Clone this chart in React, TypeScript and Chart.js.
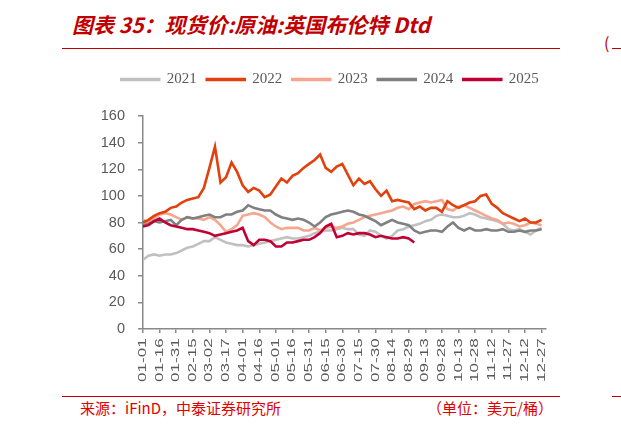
import { useEffect, useRef } from 'react';
import { Chart, registerables } from 'chart.js';

Chart.register(...registerables);

// samples are taken every 5 days, starting 01-01
const STEP_DAYS = 5;
const TICK_DAYS = 15;

const xTickLabels = [
  '01-01', '01-16', '01-31', '02-15', '03-02', '03-17', '04-01', '04-16', '05-01',
  '05-16', '05-31', '06-15', '06-30', '07-15', '07-30', '08-14', '08-29', '09-13',
  '09-28', '10-13', '10-28', '11-12', '11-27', '12-12', '12-27',
];

const yearNames = ['2021', '2022', '2023', '2024', '2025'];

const brent2021 = [
  52, 55, 56, 55, 56, 56, 57, 59, 61, 62,
  64, 66, 66, 69, 67, 65, 64, 63, 63, 62,
  63, 64, 65, 66, 67, 68, 69, 68, 68, 69,
  70, 72, 73, 74, 74, 75, 76, 75, 75, 71,
  70, 74, 73, 70, 68, 70, 74, 75, 77, 78,
  79, 81, 82, 85, 86, 85, 84, 84, 85, 87,
  86, 84, 83, 82, 81, 79, 75, 74, 75, 73,
  71, 74, 76,
];

const brent2022 = [
  80, 82, 85, 87, 88, 91, 92, 95, 97, 98,
  99, 106, 121, 137, 110, 114, 125, 118, 108, 103,
  106, 104, 99, 101, 107, 113, 110, 115, 117, 121,
  124, 127, 131, 121, 118, 122, 124, 116, 108, 113,
  109, 111, 105, 100, 104, 96, 97, 96, 95, 90,
  92, 89, 91, 91, 88, 96, 93, 91, 93, 95,
  96, 100, 101, 94, 91, 87, 85, 83, 81, 83,
  80, 80, 82,
];

const brent2023 = [
  82, 80, 83, 86, 87, 86, 84, 82, 84, 83,
  83, 82, 84, 82, 78, 73, 75, 78, 85, 86,
  87, 86, 84, 80, 77, 75, 76, 76, 76, 74,
  74, 76, 74, 76, 77, 76, 77, 79, 80, 82,
  84, 85, 86, 87, 88, 89, 91, 92, 90, 94,
  95, 96, 95, 96, 97, 90, 89, 92, 93, 91,
  89, 87, 85, 83, 82, 79, 80, 79, 77, 78,
  80, 79, 78,
];

const brent2024 = [
  78, 79, 81, 80, 81, 82, 78, 82, 84, 83,
  84, 85, 86, 84, 84, 86, 86, 88, 89, 93,
  91, 90, 89, 89, 86, 84, 83, 82, 83, 82,
  80, 77, 80, 84, 86, 87, 88, 89, 88, 86,
  85, 83, 81, 78, 80, 82, 80, 79, 78, 74,
  72, 73, 74, 74, 73, 77, 80, 76, 74, 76,
  74, 74, 75, 74, 74, 75, 73, 73, 74, 73,
  74, 74, 75,
];

const brent2025 = [
  77, 78, 81, 83, 80, 78, 77, 76, 75, 75,
  74, 73, 72, 70, 71, 72, 73, 74, 76, 66,
  63, 67, 67, 66, 62, 62, 65, 65, 66, 67,
  67, 69, 72, 77, 79, 69, 70, 72, 71, 72,
  72, 71, 69, 70, 69, 68, 68, 69, 68, 65,
];

const toPoints = (values: number[]) => values.map((v, i) => ({ x: i * STEP_DAYS, y: v }));

// legend keeps a fixed block height so the plot starts where it should,
// and its row is nudged right to sit where the source has it
const legendSpacer = {
  id: 'legendSpacer',
  beforeInit(chart: any) {
    const fit = chart.legend.fit;
    chart.legend.fit = function () {
      fit.call(this);
      this.height = 54;
    };
  },
  afterLayout(chart: any) {
    chart.legend.left += 7;
    chart.legend.right += 7;
  },
};

// the date labels in the source are drawn stretched along their length
const stretchXLabels = {
  id: 'stretchXLabels',
  beforeDraw(chart: any) {
    const scale = chart.scales.x;
    if (!scale || scale._stretched) return;
    const draw = scale.drawLabels.bind(scale);
    scale.drawLabels = (area: any) => {
      const ctx = chart.ctx;
      ctx.save();
      ctx.translate(0, scale.top);
      ctx.scale(1, 1.55);
      ctx.translate(0, -scale.top);
      draw(area);
      ctx.restore();
    };
    scale._stretched = true;
  },
};

export default function App() {
  const chartRef = useRef<HTMLCanvasElement>(null);
  const chartInstanceRef = useRef<Chart | null>(null);

  useEffect(() => {
    if (!chartRef.current) return;
    if (chartInstanceRef.current) chartInstanceRef.current.destroy();
    const ctx = chartRef.current.getContext('2d');
    if (!ctx) return;

    const series = [brent2021, brent2022, brent2023, brent2024, brent2025];
    const colors = ['#c0c0c0', '#e2400c', '#f6a58f', '#808080', '#c00035'];
    const drawOrder = [4, 1, 3, 2, 0];

    chartInstanceRef.current = new Chart(ctx, {
      type: 'line',
      data: {
        datasets: series.map((values, i) => ({
          label: yearNames[i],
          data: toPoints(values),
          borderColor: colors[i],
          backgroundColor: colors[i],
          borderWidth: 2.6,
          pointRadius: 0,
          tension: 0,
          order: drawOrder[i],
        })),
      },
      options: {
        animation: false,
        responsive: true,
        maintainAspectRatio: false,
        layout: { padding: { left: 100, right: 75, top: 4, bottom: 0 } },
        plugins: {
          tooltip: { enabled: false },
          legend: {
            position: 'top',
            labels: {
              boxWidth: 38,
              boxHeight: 1,
              padding: 10,
              color: '#595959',
              font: { family: '"Liberation Serif", serif', size: 15 },
              sort: (a: any, b: any) => a.datasetIndex - b.datasetIndex,
            },
          },
        },
        scales: {
          x: {
            type: 'linear',
            min: 0,
            max: 364,
            afterFit: (scale: any) => {
              scale.height = 61;
            },
            border: { color: '#898989', width: 1.5 },
            grid: {
              drawOnChartArea: false,
              drawTicks: true,
              tickLength: 4,
              color: '#898989',
              lineWidth: 1.5,
            },
            ticks: {
              stepSize: TICK_DAYS,
              includeBounds: false,
              autoSkip: false,
              minRotation: 90,
              maxRotation: 90,
              padding: 2,
              color: '#595959',
              font: { family: '"Liberation Sans", Arial, sans-serif', size: 11 },
              callback: (value: any) => xTickLabels[Math.round(Number(value) / TICK_DAYS)] ?? '',
            },
          },
          y: {
            min: 0,
            max: 160,
            afterFit: (scale: any) => {
              scale.width = 43;
            },
            border: { color: '#898989', width: 1.5 },
            grid: {
              drawOnChartArea: false,
              drawTicks: true,
              tickLength: 5,
              color: '#898989',
              lineWidth: 1.5,
            },
            ticks: {
              stepSize: 20,
              padding: 13,
              color: '#595959',
              font: { family: '"Liberation Sans", Arial, sans-serif', size: 14.5 },
            },
          },
        },
      },
      plugins: [legendSpacer, stretchXLabels],
    } as any);

    return () => {
      if (chartInstanceRef.current) {
        chartInstanceRef.current.destroy();
        chartInstanceRef.current = null;
      }
    };
  }, []);

  const red = '#c00000';

  return (
    <div style={{ position: 'absolute', left: 0, top: 0, width: 621, height: 427, background: '#fff', overflow: 'hidden' }}>
      <div
        style={{
          position: 'absolute',
          left: 72,
          top: 10,
          fontFamily: '"Noto Sans CJK SC", sans-serif',
          fontStyle: 'italic',
          fontWeight: 'bold',
          fontSize: 21,
          lineHeight: '28px',
          color: red,
          whiteSpace: 'nowrap',
        }}
      >
        图表 35：现货价:原油:英国布伦特 Dtd
      </div>
      <div style={{ position: 'absolute', left: 62, top: 48, width: 498, height: 1, background: red }} />
      <div style={{ position: 'absolute', left: 612, top: 48, width: 9, height: 1, background: red }} />
      <div
        style={{
          position: 'absolute',
          left: 604,
          top: 30,
          fontFamily: '"Noto Sans CJK SC", sans-serif',
          fontSize: 16,
          color: red,
        }}
      >
        (
      </div>

      <div style={{ position: 'absolute', left: 0, top: 58, width: 621, height: 332 }}>
        <canvas ref={chartRef} />
      </div>

      <div style={{ position: 'absolute', left: 62, top: 396, width: 498, height: 1, background: red }} />
      <div style={{ position: 'absolute', left: 612, top: 396, width: 9, height: 1, background: red }} />
      <div
        style={{
          position: 'absolute',
          left: 80,
          top: 399,
          fontFamily: '"Noto Sans CJK SC", sans-serif',
          fontSize: 15,
          lineHeight: '18px',
          color: '#e00000',
          whiteSpace: 'nowrap',
        }}
      >
        来源：iFinD，中泰证券研究所
      </div>
      <div
        style={{
          position: 'absolute',
          right: 68,
          top: 399,
          fontFamily: '"Noto Sans CJK SC", sans-serif',
          fontSize: 15,
          lineHeight: '18px',
          color: '#e00000',
          whiteSpace: 'nowrap',
        }}
      >
        （单位：美元/桶）
      </div>
    </div>
  );
}
